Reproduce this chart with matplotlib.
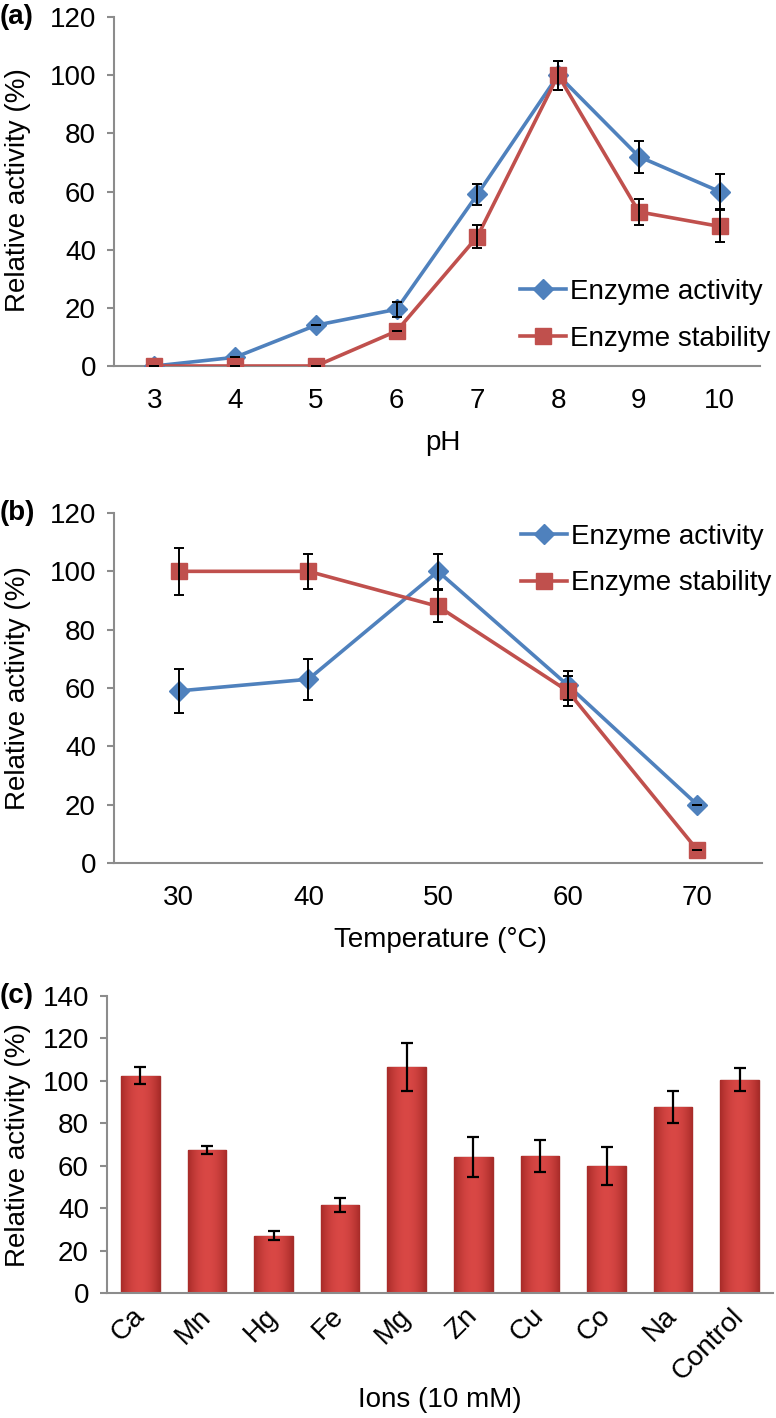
import numpy as np
import matplotlib.pyplot as plt

plt.rcParams['font.family'] = ['Liberation Sans', 'DejaVu Sans']

# (a) pH profile
ph = ['3', '4', '5', '6', '7', '8', '9', '10']
ph_activity = [0, 3, 14, 19.5, 59, 100, 72, 60]
ph_activity_err = [0, 0, 0, 2.5, 3.5, 5, 5.5, 6]
ph_stability = [0, 0, 0, 12, 44.5, 100, 53, 48]
ph_stability_err = [0, 0, 0, 0, 4, 5, 4.5, 5.5]

# (b) temperature profile
temps = ['30', '40', '50', '60', '70']
t_activity = [59, 63, 100, 61, 20]
t_activity_err = [7.5, 7, 6, 5, 0]
t_stability = [100, 100, 88, 59, 4.5]
t_stability_err = [8, 6, 5.5, 5, 0]

# (c) metal ions
ions = ['Ca', 'Mn', 'Hg', 'Fe', 'Mg', 'Zn', 'Cu', 'Co', 'Na', 'Control']
ion_activity = [102.5, 67.5, 27, 41.5, 106.5, 64, 64.5, 60, 87.5, 100.5]
ion_err = [4, 2, 2, 3.5, 11.5, 9.5, 7.5, 9, 7.5, 5.5]

BLUE = '#4F81BD'
RED = '#C0504D'
GREY = '#8c8c8c'
FS = 20

W, H = 776, 1418
fig = plt.figure(figsize=(W / 100, H / 100), dpi=100)


def box(x0, y0, x1, y1):
    # pixel box (top-left origin) -> figure fraction
    return [x0 / W, 1 - y1 / H, (x1 - x0) / W, (y1 - y0) / H]


def style(ax, xpad):
    for s in ['top', 'right']:
        ax.spines[s].set_visible(False)
    for s in ['left', 'bottom']:
        ax.spines[s].set_color(GREY)
        ax.spines[s].set_linewidth(1.5)
    ax.tick_params(axis='y', length=5, width=1.5, color=GREY, labelsize=FS, pad=8)
    ax.tick_params(axis='x', length=0, labelsize=FS, pad=xpad)


def line_panel(ax, cats, act, act_err, stab, stab_err):
    x = np.arange(len(cats))
    l1, = ax.plot(x, act, color=BLUE, lw=2.6, marker='D', ms=10.5, zorder=3)
    l2, = ax.plot(x, stab, color=RED, lw=2.6, marker='s', ms=11, zorder=3)
    ax.errorbar(x, act, yerr=act_err, fmt='none', ecolor='black',
                elinewidth=1.4, capsize=3.5, capthick=1.4, zorder=4)
    ax.errorbar(x, stab, yerr=stab_err, fmt='none', ecolor='black',
                elinewidth=1.4, capsize=3.5, capthick=1.4, zorder=4)
    ax.set_xticks(x)
    ax.set_xticklabels(cats)
    ax.set_xlim(-0.5, len(cats) - 0.5)
    ax.set_ylim(0, 120)
    ax.set_yticks(range(0, 121, 20))
    return l1, l2


leg_kw = dict(loc='upper left', frameon=False, fontsize=FS, handlelength=1.65,
              handletextpad=0.15, labelspacing=0.75, borderpad=0, borderaxespad=0)

# panel a
ax_a = fig.add_axes(box(114, 17, 760, 366))
style(ax_a, 16)
h = line_panel(ax_a, ph, ph_activity, ph_activity_err, ph_stability, ph_stability_err)
ax_a.legend(h, ['Enzyme activity', 'Enzyme stability'],
            bbox_to_anchor=(0.628, 0.25), **leg_kw)
fig.text(443 / W, 1 - 443 / H, 'pH', fontsize=FS, ha='center', va='center')
fig.text(0, 1 - 17 / H, '(a)', fontsize=FS, fontweight='bold', ha='left', va='center')
fig.text(18 / W, 1 - 190 / H, 'Relative activity (%)', fontsize=FS, rotation=90,
         ha='center', va='center')

# panel b
ax_b = fig.add_axes(box(114, 513, 762, 863))
style(ax_b, 16)
h = line_panel(ax_b, temps, t_activity, t_activity_err, t_stability, t_stability_err)
ax_b.legend(h, ['Enzyme activity', 'Enzyme stability'],
            bbox_to_anchor=(0.628, 0.97), **leg_kw)
fig.text(440 / W, 1 - 940 / H, 'Temperature (°C)', fontsize=FS, ha='center', va='center')
fig.text(0, 1 - 513 / H, '(b)', fontsize=FS, fontweight='bold', ha='left', va='center')
fig.text(18 / W, 1 - 688 / H, 'Relative activity (%)', fontsize=FS, rotation=90,
         ha='center', va='center')

# panel c
ax_c = fig.add_axes(box(107, 996, 773, 1293))
style(ax_c, 14)
xc = np.arange(len(ions))
bars = ax_c.bar(xc, ion_activity, width=0.58, color='#CF403C', edgecolor='#A32E2B',
                linewidth=1, zorder=2)
# darker edges, lighter middle, like the spreadsheet bevel
shade = np.abs(np.linspace(-1, 1, 64)) ** 2
grad = np.array([[0.85, 0.28, 0.27]]) * (1 - shade[:, None]) + \
       np.array([[0.66, 0.17, 0.16]]) * shade[:, None]
for b in bars:
    x0, y0 = b.get_x(), b.get_y()
    img = ax_c.imshow(grad[None, :, :], extent=[x0, x0 + b.get_width(), y0, y0 + b.get_height()],
                      aspect='auto', zorder=2.1)
    img.set_clip_path(b)
ax_c.errorbar(xc, ion_activity, yerr=ion_err, fmt='none', ecolor='black',
              elinewidth=1.6, capsize=4, capthick=1.6, zorder=3)
ax_c.set_xticks(xc)
ax_c.set_xticklabels(ions, rotation=45, ha='right', va='center', rotation_mode='anchor')
ax_c.set_xlim(-0.5, len(ions) - 0.5)
ax_c.set_ylim(0, 140)
ax_c.set_yticks(range(0, 141, 20))
fig.text(440 / W, 1 - 1400 / H, 'Ions (10 mM)', fontsize=FS, ha='center', va='center')
fig.text(0, 1 - 996 / H, '(c)', fontsize=FS, fontweight='bold', ha='left', va='center')
fig.text(18 / W, 1 - 1145 / H, 'Relative activity (%)', fontsize=FS, rotation=90,
         ha='center', va='center')

fig.savefig('out.png', dpi=100)
